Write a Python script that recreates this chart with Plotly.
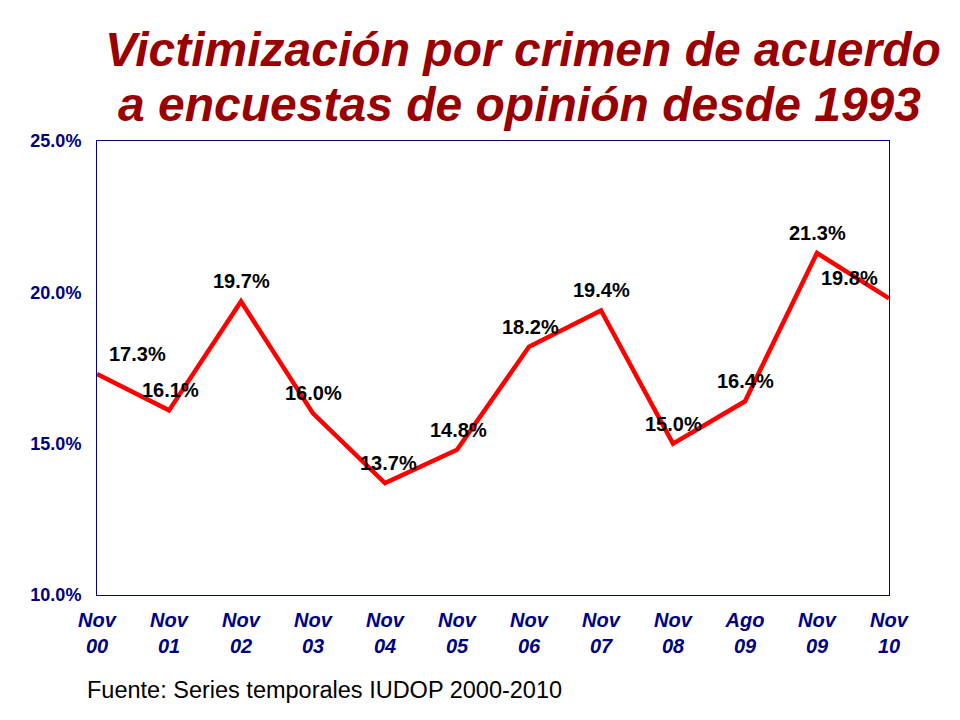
import plotly.graph_objects as go

# datos
periodos = ["Nov<br>00", "Nov<br>01", "Nov<br>02", "Nov<br>03", "Nov<br>04", "Nov<br>05",
            "Nov<br>06", "Nov<br>07", "Nov<br>08", "Ago<br>09", "Nov<br>09", "Nov<br>10"]
victimizacion = [17.3, 16.1, 19.7, 16.0, 13.7, 14.8, 18.2, 19.4, 15.0, 16.4, 21.3, 19.8]
y_ticks = [10, 15, 20, 25]
titulo = ["Victimización por crimen de acuerdo", "a encuestas de opinión desde 1993"]

# desplazamiento horizontal de cada etiqueta (px)
label_dx = [40, 1, 0, 0, 3, 1, 1, 0, 0, 0, 0, -40]

NAVY = "#000080"
FONT = "Arial, Liberation Sans"
x_idx = list(range(len(periodos)))

fig = go.Figure()
fig.add_trace(go.Scatter(
    x=x_idx,
    y=victimizacion,
    mode="lines",
    line=dict(color="#FF0000", width=4.5),
    hoverinfo="skip",
    showlegend=False,
    cliponaxis=False,
))

for i, v in enumerate(victimizacion):
    fig.add_annotation(
        x=i, y=v, text=f"{v:.1f}%", showarrow=False,
        xshift=label_dx[i], yshift=20,
        font=dict(family=FONT, size=20, color="black", weight="bold"),
    )

# titulo en dos lineas (posiciones en coordenadas de papel)
for linea, (xp, yp) in zip(titulo, [(0.538, 1.202), (0.533, 1.081)]):
    fig.add_annotation(
        xref="paper", yref="paper", x=xp, y=yp,
        xanchor="center", yanchor="middle", showarrow=False,
        text=linea,
        font=dict(family=FONT, size=48, color="#990000", weight="bold", style="italic"),
    )

fig.add_annotation(
    xref="paper", yref="paper", x=-0.0152, y=-0.209,
    xanchor="left", yanchor="middle", showarrow=False,
    text="Fuente: Series temporales IUDOP 2000-2010",
    font=dict(family=FONT, size=23.5, color="black"),
)

fig.update_layout(
    width=960, height=720,
    paper_bgcolor="white", plot_bgcolor="white",
    margin=dict(l=89, r=79, t=133, b=133),
    xaxis=dict(
        range=[0, len(periodos) - 1],
        tickvals=x_idx, ticktext=periodos,
        showgrid=False, zeroline=False,
        showline=True, linecolor=NAVY, linewidth=1, mirror=True,
        ticks="", ticklabelstandoff=7,
        tickfont=dict(family=FONT, size=20, color=NAVY, weight="bold", style="italic"),
    ),
    yaxis=dict(
        range=[10, 25], tickvals=y_ticks,
        ticktext=[f"{t:.1f}%" for t in y_ticks],
        showgrid=False, zeroline=False,
        showline=True, linecolor=NAVY, linewidth=1, mirror=True,
        ticks="", ticklabelstandoff=11,
        tickfont=dict(family=FONT, size=18, color=NAVY, weight="bold"),
    ),
)

fig.write_html("out.html")
